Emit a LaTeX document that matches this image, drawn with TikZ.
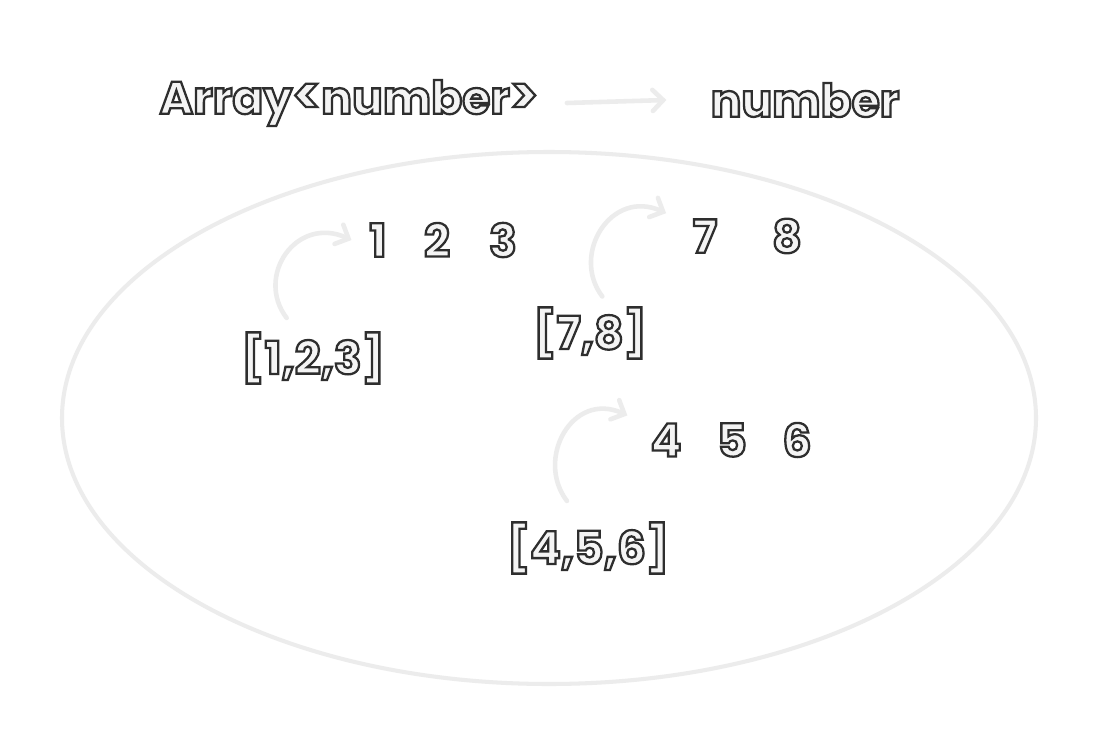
\documentclass[tikz,border=0pt]{standalone}
\usepackage{fontspec}
\setmainfont{Poppins}
\usetikzlibrary{arrows.meta}
\definecolor{pale}{HTML}{ECECEC}
\definecolor{inkfill}{HTML}{F4F4F4}
% outlined text: fill and stroke the glyphs
\newcommand{\outl}[1]{\special{pdf:literal direct 2 Tr 1.3 w 0.18 G}#1\special{pdf:literal direct 0 Tr}}
\tikzset{
  hand/.style={text=inkfill, inner sep=0pt, font=\bfseries\fontsize{26}{30}\selectfont},
  curvy/.style={pale, line width=2.6pt, line cap=round,
    -{Straight Barb[length=6pt,width=12pt,line cap=round]}}
}
\begin{document}
\begin{tikzpicture}[x=0.02cm,y=-0.02cm]
   \useasboundingbox (0,0) rectangle (1099,747);
   \fill[white] (0,0) rectangle (1099,747);
   \node[hand] (arr) at (349,103) {\outl{Array{\fontsize{30}{30}\selectfont<}number{\fontsize{30}{30}\selectfont>}}};
   \node[hand] (num) at (805,100) {\outl{number}};
   \draw[curvy] ([xshift=16pt]arr.east) -- ([xshift=-25pt]num.west);
   \draw[pale, line width=2.3pt] (549,418) ellipse [x radius=487, y radius=266];

    \foreach \d/\x/\y in {1/378/240, 2/437/240, 3/503/240, 7/705/236, 8/787/236, 4/666/440, 5/732/440, 6/797/440}
      \node[hand] (d\d) at (\x,\y) {\outl{\d}};

   \node[hand] (l123) at (313,358) {\outl{[1,2,3]}};
   \node[hand] (l78) at (590,333) {\outl{[7,8]}};
   \node[hand] (l456) at (588,548) {\outl{[4,5,6]}};

   \draw[curvy] ([xshift=-15pt,yshift=8pt]l123.north) .. controls +(-32,-42) and +(-55,-25) .. ([xshift=-10pt]d1.west);
   \draw[curvy] ([xshift=7pt,yshift=6pt]l78.north) .. controls +(-32,-42) and +(-55,-25) .. ([xshift=-15pt,yshift=13pt]d7.west);
   \draw[curvy] ([xshift=-12pt,yshift=12pt]l456.north) .. controls +(-32,-42) and +(-55,-25) .. ([xshift=-13pt,yshift=14pt]d4.west);
 \end{tikzpicture}
\end{document}
